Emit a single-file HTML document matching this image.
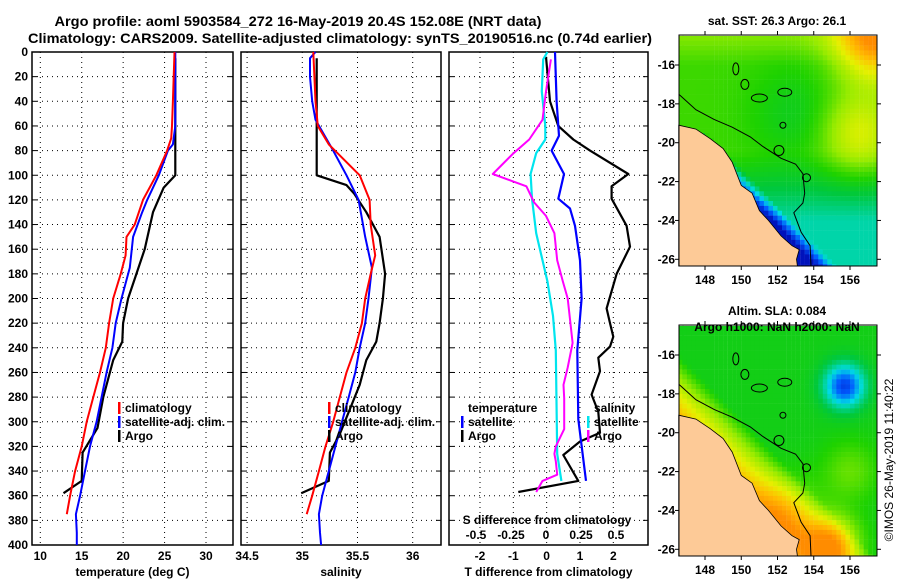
<!DOCTYPE html>
<html><head><meta charset="utf-8">
<style>
html,body{margin:0;padding:0;background:#fff;}
svg{display:block;font-family:"Liberation Sans",sans-serif;font-weight:bold;}
</style></head>
<body>
<svg id="fig" width="900" height="580" viewBox="0 0 900 580" xmlns="http://www.w3.org/2000/svg">
<text x="298" y="26" font-size="14" text-anchor="middle" textLength="487" lengthAdjust="spacingAndGlyphs">Argo profile: aoml 5903584_272 16-May-2019 20.4S 152.08E (NRT data)</text>
<text x="340" y="43" font-size="14" text-anchor="middle" textLength="624" lengthAdjust="spacingAndGlyphs">Climatology: CARS2009. Satellite-adjusted climatology: synTS_20190516.nc (0.74d earlier)</text>
<g id="plots"></g>
<g id="maps"></g>
<text transform="translate(893,460) rotate(-90)" font-size="12" font-weight="normal" text-anchor="middle">©IMOS 26-May-2019 11:40:22</text>
</svg>
<script>
// ---------- data ----------
const depthTicks = [0,20,40,60,80,100,120,140,160,180,200,220,240,260,280,300,320,340,360,380,400];
const tempTicks = [10,15,20,25,30];
const salTicks = [34.5,35,35.5,36];
const tdiffTicks = [-2,-1,0,1,2];
const sdiffTicks = [-0.5,-0.25,0,0.25,0.5];

const tempClimDepth = [0,40,60,70,80,100,120,140,150,165,180,200,220,240,260,280,300,320,340,360,375];
const tempClimVal   = [26.2,26.0,25.9,25.8,25.3,24.0,22.4,21.4,20.4,20.3,19.7,18.8,18.3,17.9,17.2,16.4,15.6,15.0,14.2,13.6,13.2];
const tempSatDepth = [0,60,75,80,100,120,130,150,175,200,220,240,260,280,300,320,340,360,375,390,400];
const tempSatVal   = [26.3,26.3,26.0,25.4,24.3,22.9,22.3,21.2,20.8,19.8,19.1,18.7,18.0,17.4,16.8,16.0,15.4,14.8,14.3,14.4,14.4];
const tempArgoDepth = [5,100,110,130,160,180,200,220,235,250,280,305,325,348,358];
const tempArgoVal   = [26.3,26.3,24.9,23.6,22.6,21.6,20.6,20.0,19.9,18.8,17.6,16.9,15.1,15.0,12.8];

const salClimDepth = [0,40,60,75,100,120,140,165,180,200,220,240,260,280,300,320,340,360,375];
const salClimVal   = [35.10,35.12,35.14,35.24,35.52,35.61,35.62,35.66,35.62,35.57,35.54,35.48,35.40,35.34,35.28,35.21,35.15,35.09,35.04];
const salSatDepth = [0,5,20,40,55,80,100,120,150,175,200,220,240,260,280,300,320,340,360,375,390,400];
const salSatVal   = [35.12,35.07,35.07,35.09,35.12,35.28,35.40,35.51,35.57,35.63,35.60,35.57,35.52,35.48,35.42,35.36,35.30,35.24,35.18,35.15,35.16,35.17];
const salArgoDepth = [5,100,108,115,130,150,180,200,220,235,250,270,290,310,325,348,358];
const salArgoVal   = [35.13,35.13,35.40,35.47,35.58,35.70,35.75,35.73,35.70,35.67,35.58,35.52,35.43,35.34,35.25,35.24,34.99];

const tdSatDepth = [0,40,68,80,99,119,127,141,169,200,242,298,348];
const tdSatVal   = [0.25,0.3,0.37,0.15,0.52,0.35,0.7,0.85,1.0,1.05,0.92,0.95,1.18];
const tdArgoDepth = [4,40,60,71,80,99,109,119,141,158,180,208,220,231,239,248,259,278,292,309,316,327,348,357];
const tdArgoVal   = [-0.02,0.1,0.35,0.8,1.3,2.45,1.95,1.95,2.4,2.5,2.1,1.8,1.9,2.0,1.9,1.55,1.6,1.35,1.55,1.6,1.0,0.5,0.95,-0.85];
const sdSatDepth = [0,6,32,60,71,82,99,119,147,169,186,214,242,284,326,348];
const sdSatVal   = [0.01,-0.02,-0.03,-0.005,-0.005,-0.07,-0.11,-0.1,-0.07,-0.025,0.01,0.05,0.07,0.075,0.08,0.11];
const sdArgoDepth = [6,32,55,71,83,99,109,122,133,147,169,186,200,236,256,270,281,306,320,326,332,343,348,357];
const sdArgoVal   = [0.035,0.0,-0.025,-0.12,-0.24,-0.38,-0.14,-0.085,0,0.06,0.08,0.12,0.155,0.19,0.155,0.125,0.13,0.13,0.07,0.06,0.07,0.08,-0.025,-0.07];

// ---------- helpers ----------
const NS = "http://www.w3.org/2000/svg";
function mk(tag, attrs, parent){const e=document.createElementNS(NS,tag);for(const k in attrs)e.setAttribute(k,attrs[k]);parent.appendChild(e);return e;}
const plots = document.getElementById('plots');
const TOP=52, BOT=545;
function yD(d){return TOP + d*(BOT-TOP)/400;}
function lin(d0,d1,r0,r1){return v=>r0+(v-d0)*(r1-r0)/(d1-d0);}

const panels = [
 {name:'temperature-panel', x0:32, x1:233, sx:lin(10,30,40.3,206), ticks:tempTicks, title:'temperature (deg C)'},
 {name:'salinity-panel', x0:241, x1:441, sx:lin(35,36,302.3,412.7), ticks:salTicks, title:'salinity'},
 {name:'difference-panel', x0:449, x1:648, sx:lin(-2,2,480,613.3), ticks:tdiffTicks, title:'T difference from climatology'}
];
const sdx = lin(-0.5,0.5,476,616);

panels.forEach((p,pi)=>{
  const g = mk('g',{},plots);
  
  
  depthTicks.forEach(d=>{ if(d>0&&d<400){
    const l=mk('line',{x1:p.x0,x2:p.x1,y1:yD(d),y2:yD(d),stroke:'#000','stroke-width':1,'stroke-dasharray':'1 4'},g);
    
    
    mk('line',{x1:p.x0,x2:p.x0+5,y1:yD(d),y2:yD(d),stroke:'#000'},g);
    mk('line',{x1:p.x1-5,x2:p.x1,y1:yD(d),y2:yD(d),stroke:'#000'},g);
  }});
  p.ticks.forEach(t=>{
    const x=p.sx(t);
    const l=mk('line',{x1:x,x2:x,y1:TOP,y2:BOT,stroke:'#000','stroke-width':1,'stroke-dasharray':'1 4'},g);
    
    
    const tx=mk('text',{x:x,y:560,'font-size':12,'text-anchor':'middle'},g);
    tx.textContent=String(t);
    
    
  });
  const fr=mk('rect',{x:p.x0,y:TOP,width:p.x1-p.x0,height:BOT-TOP,fill:'none',stroke:'#000','stroke-width':1.5},g);
  
  
  const tt=mk('text',{x:(p.x0+p.x1)/2,y:576,'font-size':12,'text-anchor':'middle'},g);
  tt.textContent=p.title;
  
  
  p.g=g;
});
depthTicks.forEach(d=>{
  const t=mk('text',{x:28,y:yD(d)+4,'font-size':12,'text-anchor':'end'},plots);
  t.textContent=String(d);
  
  
});

function series(g, depths, vals, sx, color, w, name){
  const pts = depths.map((d,i)=>sx(vals[i]).toFixed(1)+','+yD(d).toFixed(1)).join(' ');
  const pl = mk('polyline',{points:pts,fill:'none',stroke:color,'stroke-width':w,'stroke-linejoin':'round'},g);
  
  
}
const P=panels;
series(P[0].g,tempArgoDepth,tempArgoVal,P[0].sx,'#000',2.2,'temp-argo-line');
series(P[0].g,tempSatDepth,tempSatVal,P[0].sx,'#0000ff',2,'temp-satellite-line');
series(P[0].g,tempClimDepth,tempClimVal,P[0].sx,'#ff0000',2,'temp-climatology-line');
series(P[1].g,salArgoDepth,salArgoVal,P[1].sx,'#000',2.2,'salinity-argo-line');
series(P[1].g,salSatDepth,salSatVal,P[1].sx,'#0000ff',2,'salinity-satellite-line');
series(P[1].g,salClimDepth,salClimVal,P[1].sx,'#ff0000',2,'salinity-climatology-line');
series(P[2].g,tdArgoDepth,tdArgoVal,P[2].sx,'#000',2.2,'tdiff-argo-line');
series(P[2].g,tdSatDepth,tdSatVal,P[2].sx,'#0000ff',2.2,'tdiff-satellite-line');
series(P[2].g,sdSatDepth,sdSatVal,sdx,'#00e5ee',2.2,'sdiff-satellite-line');
series(P[2].g,sdArgoDepth,sdArgoVal,sdx,'#ff00ff',2,'sdiff-argo-line');

(function(){
  const g=P[2].g;
  const t=mk('text',{x:547,y:524,'font-size':12,'text-anchor':'middle'},g);
  t.textContent='S difference from climatology';
  
  
  sdiffTicks.forEach(v=>{
    const tx=mk('text',{x:sdx(v),y:539,'font-size':12,'text-anchor':'middle'},g);
    tx.textContent=String(v);
    
    
  });
})();

function legend(g,x,y,items){
  items.forEach((it,i)=>{
    const yy=y+i*14;
    if(it.c){
      const m=mk('rect',{x:x-7,y:yy-10,width:2.5,height:12,fill:it.c},g);
      
      
    }
    const t=mk('text',{x:x,y:yy,'font-size':12},g);
    t.textContent=it.t;
    
    
  });
}
legend(P[0].g,125,412,[{t:'climatology',c:'#ff0000'},{t:'satellite-adj. clim.',c:'#0000ff'},{t:'Argo',c:'#000'}]);
legend(P[1].g,335,412,[{t:'climatology',c:'#ff0000'},{t:'satellite-adj. clim.',c:'#0000ff'},{t:'Argo',c:'#000'}]);
legend(P[2].g,468,412,[{t:'temperature'},{t:'satellite',c:'#0000ff'},{t:'Argo',c:'#000'}]);
legend(P[2].g,594,412,[{t:'salinity'},{t:'satellite',c:'#00e5ee'},{t:'Argo',c:'#ff00ff'}]);

// ---------- maps ----------
const maps=document.getElementById('maps');
const mapLonTicks=[148,150,152,154,156];
const mapLatTicks=[-16,-18,-20,-22,-24,-26];
function ramp(v){
  const stops=[[0,[0,0,170]],[0.15,[0,90,255]],[0.28,[0,220,230]],[0.42,[0,200,60]],[0.5,[30,210,0]],[0.62,[150,235,0]],[0.75,[230,240,0]],[0.87,[255,190,0]],[1,[255,140,0]]];
  v=Math.max(0,Math.min(1,v));
  for(let i=1;i<stops.length;i++){ if(v<=stops[i][0]){const a=stops[i-1],b=stops[i],t=(v-a[0])/(b[0]-a[0]);
    return 'rgb('+a[1].map((c,k)=>Math.round(c+(b[1][k]-c)*t)).join(',')+')';}}
  return 'rgb(255,140,0)';
}
function gauss(lon,lat,cx,cy,r){const d2=((lon-cx)**2+(lat-cy)**2)/(r*r);return Math.exp(-d2);}
function coastDist(lon,lat){ // positive seaward of approx coastline (deg)
  const ax=146.6,ay=-19.1,bx=153.2,by=-25.4;const dx=bx-ax,dy=by-ay,L=Math.hypot(dx,dy);
  return (dx*(lat-ay)-dy*(lon-ax))/L;
}
const landLon=[146.55,147.5,148.3,149,149.5,150,150.6,151,151.5,152.2,152.8,153.2,153.05,153.1,146.55];
const landLat=[-19.1,-19.3,-19.8,-20.3,-21.0,-22.2,-22.6,-23.5,-24.0,-24.8,-25.3,-25.5,-26.0,-26.4,-26.4];
const shelfLon=[146.55,147.5,148.5,149.5,150.5,151.2,152.2,153.0,153.4,153.5,153.4,152.9,153.3,153.8,153.85];
const shelfLat=[-17.5,-18.3,-18.8,-19.2,-19.7,-20.2,-20.8,-21.1,-21.6,-22.6,-23.1,-23.6,-24.6,-25.3,-26.4];

function drawMap(oy,name,field,title1,title2){
  const g=mk('g',{},maps);
  
  
  const X=lon=>705+(lon-148)*18.125, Y=lat=>oy+65+(-16-lat)*19.43;
  const x0=679,x1=877,y0=oy+35,y1=oy+266;
  const cg=mk('g',{},g);
  const step=0.25;
  for(let lon=146.5;lon<157.6;lon+=step){for(let lat=-14.5;lat>-26.6;lat-=step){
    const px=X(lon),py=Y(lat);
    if(px+5<x0||px>x1||py+5<y0||py>y1)continue;
    const xx=Math.max(px,x0), yy=Math.max(py,y0);
    mk('rect',{x:xx.toFixed(1),y:yy.toFixed(1),width:Math.min(4.7,x1-xx).toFixed(1),height:Math.min(5.1,y1-yy).toFixed(1),fill:ramp(field(lon+0.125,lat-0.125))},cg);
  }}
  const land=mk('polygon',{points:landLon.map((l,i)=>X(l).toFixed(1)+','+Math.min(Y(landLat[i]),y1).toFixed(1)).join(' '),fill:'#fdca97',stroke:'#000','stroke-width':0.8},g);
  
  
  const sh=mk('polyline',{points:shelfLon.map((l,i)=>X(l).toFixed(1)+','+Math.min(Y(shelfLat[i]),y1).toFixed(1)).join(' '),fill:'none',stroke:'#000','stroke-width':1},g);
  
  
  [[149.7,-16.2,3,6],[150.2,-17.0,4,5],[151.0,-17.7,8,4],[152.4,-17.4,7,4],[152.3,-19.1,3,3],[153.6,-21.8,4,4]].forEach(r=>{
    const e=mk('ellipse',{cx:X(r[0]),cy:Y(r[1]),rx:r[2],ry:r[3],fill:'none',stroke:'#000','stroke-width':1},g);
    
    
  });
  const c=mk('circle',{cx:X(152.08),cy:Y(-20.4),r:5,fill:'none',stroke:'#000','stroke-width':1},g);
  
  
  mk('rect',{x:x0,y:y0,width:x1-x0,height:y1-y0,fill:'none',stroke:'#000','stroke-width':1},g);
  mapLonTicks.forEach(l=>{
    mk('line',{x1:X(l),x2:X(l),y1:y0-4,y2:y0,stroke:'#000'},g);
    mk('line',{x1:X(l),x2:X(l),y1:y1,y2:y1+4,stroke:'#000'},g);
    const t=mk('text',{x:X(l),y:oy+284,'font-size':12,'text-anchor':'middle'},g);
    t.textContent=String(l);
    
    
  });
  mapLatTicks.forEach(l=>{
    mk('line',{x1:x0-4,x2:x0,y1:Y(l),y2:Y(l),stroke:'#000'},g);
    mk('line',{x1:x1,x2:x1+4,y1:Y(l),y2:Y(l),stroke:'#000'},g);
    const t=mk('text',{x:675,y:Y(l)+4,'font-size':12,'text-anchor':'end'},g);
    t.textContent=String(l);
    
    
  });
  const t1=mk('text',{x:777,y:oy+25,'font-size':12,'text-anchor':'middle'},g);
  t1.textContent=title1;
  
  
  if(title2){const t2=mk('text',{x:777,y:oy+41,'font-size':12,'text-anchor':'middle'},g);
    t2.textContent=title2;
    
    }
}
function sstField(lon,lat){
  let v=0.53;
  v+=0.1*Math.max(0,Math.min(1,(lat+16)/2));
  v+=0.45*gauss(lon,lat,157.5,-14.5,2.2);
  v+=0.2*gauss(lon,lat,156.5,-19.5,2.0);
  v-=0.07*gauss(lon,lat,153,-18.5,2.5);
  v-=0.2*Math.max(0,Math.min(1,(-20.5-lat)/3.5));
  const cd=coastDist(lon,lat);
  if(lat<-19.5&&cd<0.7) v-=0.3*(1-Math.max(0,cd)/0.7);
  return v;
}
function slaField(lon,lat){
  let v=0.47;
  v-=0.36*gauss(lon,lat,155.7,-17.6,1.1);
  v+=0.35*gauss(lon,lat,155,-25.7,1.4);
  v+=0.15*gauss(lon,lat,152.5,-24.2,1.8);
  v+=0.1*gauss(lon,lat,156,-22,1.5);
  const cd=coastDist(lon,lat);
  if(cd<2.2) v+=0.4*(1-Math.max(0,cd)/2.2);
  return v;
}
drawMap(0,'sst-map',sstField,'sat. SST: 26.3 Argo: 26.1',null);
drawMap(290,'sla-map',slaField,'Altim. SLA: 0.084','Argo h1000: NaN h2000: NaN');
</script>
</body></html>
